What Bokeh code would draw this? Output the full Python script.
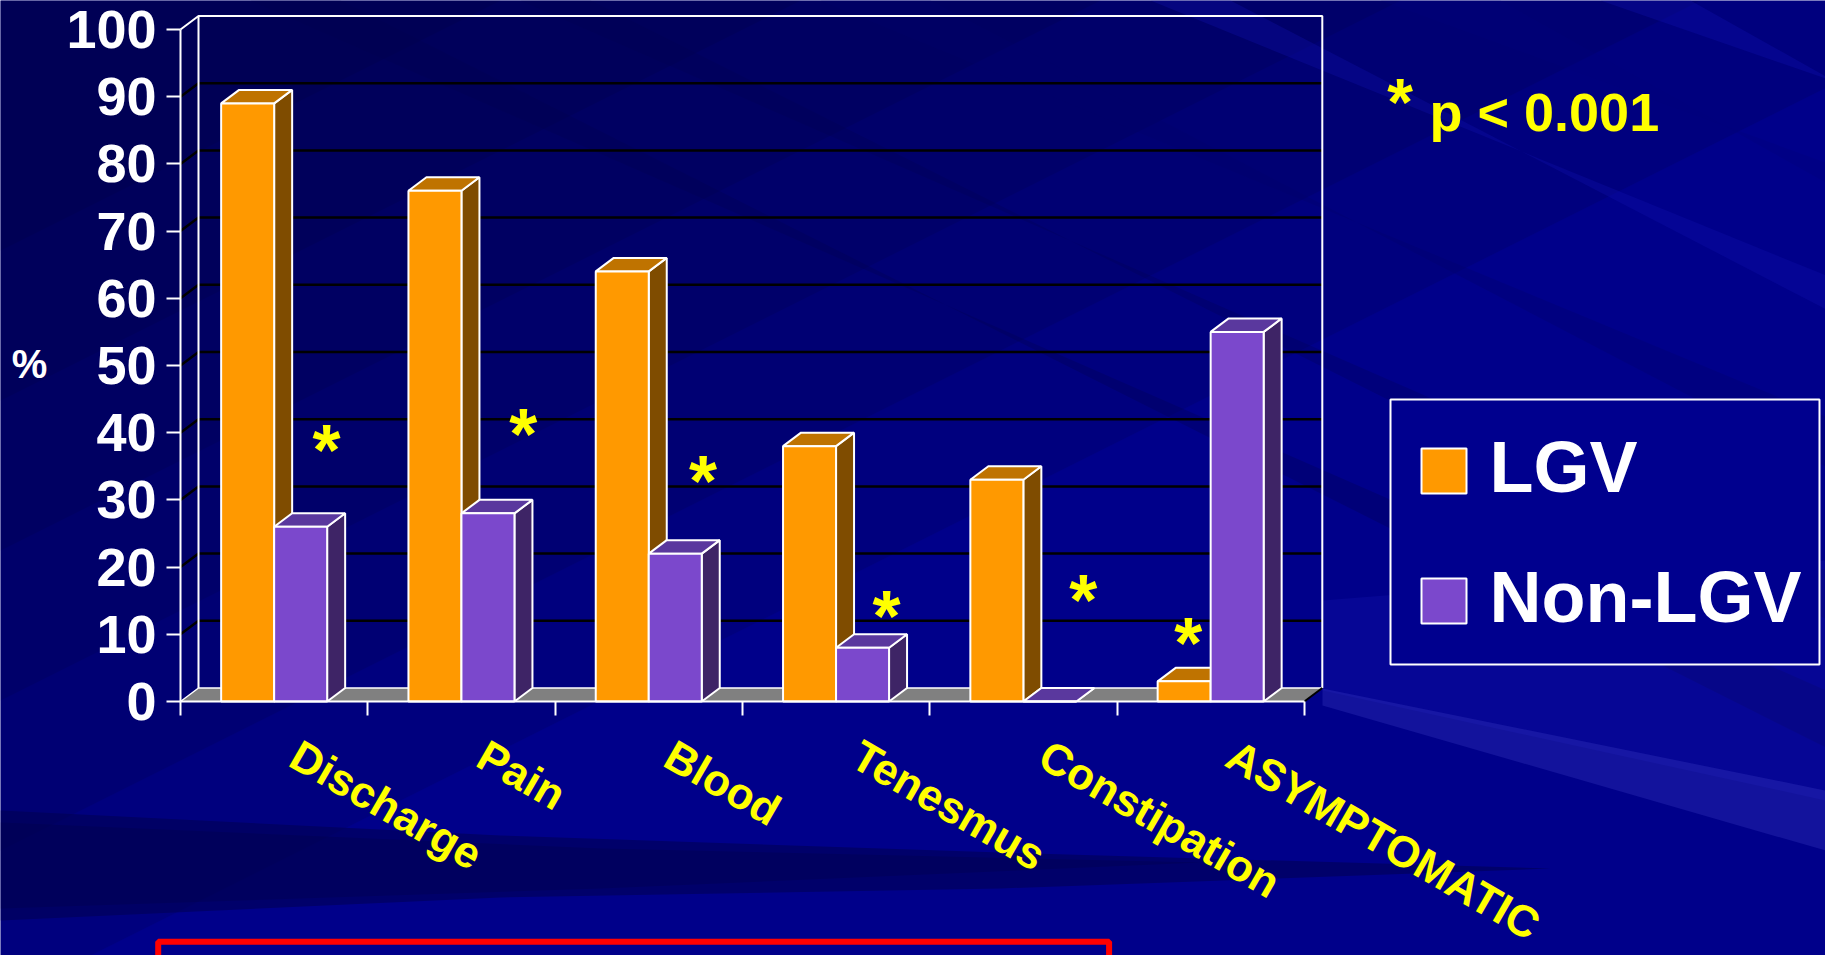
from bokeh.plotting import figure
from bokeh.models import Range1d, LinearAxis, FixedTicker, ColumnDataSource
from bokeh.core.properties import value
from bokeh.embed import file_html
from bokeh.resources import INLINE

# ---- data -------------------------------------------------------------
categories = ["Discharge", "Pain", "Blood", "Tenesmus", "Constipation", "ASYMPTOMATIC"]
lgv = [89, 76, 64, 38, 33, 3]
non_lgv = [26, 28, 22, 8, 0, 55]
series_names = ["LGV", "Non-LGV"]
y_ticks = [0, 10, 20, 30, 40, 50, 60, 70, 80, 90, 100]
y_label = "%"
p_star = "*"
p_note = "p < 0.001"
# significance markers (x in category units, y in %)
star_x = [0.78, 1.83, 2.79, 3.77, 4.82, 5.38]
star_y = [39.0, 41.4, 34.4, 14.3, 16.7, 10.4]

# ---- page geometry ----------------------------------------------------
W, H = 1825, 955
OX, OY = 180.0, 701.0        # pixel position of the (0, 0) corner
CAT_PX = 187.3               # pixels per category
VAL_PX = 6.72                # pixels per percentage point


def X(px):
    return (px - OX) / CAT_PX


def Y(py):
    return (OY - py) / VAL_PX


DEPTH_X = 18.0 / CAT_PX      # oblique depth of walls and columns
DEPTH_Y = 13.5 / VAL_PX
BAR_W = 53.0 / CAT_PX
N = len(categories)

FONT = "Liberation Sans"
BG = "#00008A"

p = figure(width=W, height=H,
           x_range=Range1d(X(0), X(W)), y_range=Range1d(Y(H), Y(0)),
           x_axis_type=None, y_axis_type=None, min_border=0,
           toolbar_location=None, output_backend="svg",
           background_fill_color=BG, border_fill_color=BG,
           outline_line_color=None)


def poly(pts, color, alpha):
    p.patch([X(a) for a, b in pts], [Y(b) for a, b in pts],
            fill_color=color, fill_alpha=alpha, line_color=None)


# ---- slide backdrop -----------------------------------------------------
for L in [500, 800, 1100, 1400, 1700, 2000]:
    poly([(0, 0), (L, 0), (0, L * 0.5)], "#000030", 0.13)
for x0, w, c, a in [(250, 90, "#000050", 0.30), (520, 70, "#000050", 0.25),
                    (820, 110, "#00006A", 0.30), (1150, 80, "#1010B0", 0.30),
                    (1380, 120, "#00007A", 0.30), (1600, 90, "#1212B4", 0.30)]:
    poly([(x0, 0), (x0 + w, 0), (W + 400, (W + 400 - x0) * 0.48),
          (W + 400, (W + 400 - x0 - w) * 0.48 - 40)], c, a)
poly([(1322, 600), (W, 560), (W, 800), (1322, 690)], "#1414B0", 0.30)
poly([(1322, 688), (W, 790), (W, 850), (1322, 705)], "#4040C8", 0.30)
poly([(0, 810), (500, 835), (1000, 852), (1550, 868),
      (1000, 888), (500, 897), (0, 920)], "#000050", 0.55)
poly([(0, 822), (600, 848), (1200, 862), (600, 888), (0, 908)], "#000040", 0.25)

# ---- walls and floor ----------------------------------------------------
grid_vals = y_ticks[1:-1]
p.multi_line(xs=[[0, DEPTH_X, N + DEPTH_X] for _ in grid_vals],
             ys=[[v, v + DEPTH_Y, v + DEPTH_Y] for v in grid_vals],
             line_color="black", line_width=2.5)
top = y_ticks[-1]
p.line([0, DEPTH_X, N + DEPTH_X, N + DEPTH_X], [top, top + DEPTH_Y, top + DEPTH_Y, DEPTH_Y],
       line_color="white", line_width=2)
p.line([DEPTH_X, DEPTH_X], [DEPTH_Y, top + DEPTH_Y], line_color="white", line_width=2)
p.patch([0, N, N + DEPTH_X, DEPTH_X], [0, 0, DEPTH_Y, DEPTH_Y],
        fill_color="#808080", line_color=None)
p.line([0, DEPTH_X, N + DEPTH_X], [0, DEPTH_Y, DEPTH_Y], line_color="white", line_width=1.5)
p.line([N, N + DEPTH_X], [0, DEPTH_Y], line_color="black", line_width=2)

# ---- 3-D columns --------------------------------------------------------
palettes = [("#FF9900", "#BF7300", "#7F4C00"), ("#7B48CC", "#5A389E", "#3E2466")]
faces = {"side": [], "top": [], "front": []}
for s, vals in enumerate([lgv, non_lgv]):
    fr, tp, sd = {"xs": [], "ys": []}, {"xs": [], "ys": []}, {"xs": [], "ys": []}
    for i, h in enumerate(vals):
        left = i + 0.5 - BAR_W + s * BAR_W
        right = left + BAR_W
        fr["xs"].append([left, right, right, left])
        fr["ys"].append([0, 0, h, h])
        tp["xs"].append([left, right, right + DEPTH_X, left + DEPTH_X])
        tp["ys"].append([h, h, h + DEPTH_Y, h + DEPTH_Y])
        sd["xs"].append([right, right + DEPTH_X, right + DEPTH_X, right])
        sd["ys"].append([0, DEPTH_Y, h + DEPTH_Y, h])
    faces["front"].append(fr)
    faces["top"].append(tp)
    faces["side"].append(sd)

for face, idx in [("side", 2), ("top", 1), ("front", 0)]:
    for s in range(2):
        p.patches("xs", "ys", source=ColumnDataSource(faces[face][s]),
                  fill_color=palettes[s][idx], line_color="white", line_width=2)

# ---- axes ----------------------------------------------------------------
yax = LinearAxis(fixed_location=0, bounds=(0, 100),
                 ticker=FixedTicker(ticks=y_ticks, minor_ticks=[]),
                 axis_line_color="white", axis_line_width=2,
                 major_tick_line_color="white", major_tick_line_width=2,
                 major_tick_out=14, major_tick_in=0, minor_tick_out=0, minor_tick_in=0,
                 major_label_standoff=10,
                 major_label_text_color="white", major_label_text_font=FONT,
                 major_label_text_font_style="bold", major_label_text_font_size="54px")
p.add_layout(yax, "left")

# category names hang from just right of each category centre
label_pos = [i + 0.5 + 20.0 / CAT_PX for i in range(N)]
xax = LinearAxis(fixed_location=0, bounds=(0, N),
                 ticker=FixedTicker(ticks=label_pos, minor_ticks=list(range(N + 1))),
                 major_label_overrides={c: name for c, name in zip(label_pos, categories)},
                 major_label_orientation=-0.5236,
                 axis_line_color="white", axis_line_width=2,
                 major_tick_out=0, major_tick_in=0,
                 minor_tick_line_color="white", minor_tick_line_width=2,
                 minor_tick_out=14, minor_tick_in=0,
                 major_label_standoff=36,
                 major_label_text_color="#FFFF00", major_label_text_font=FONT,
                 major_label_text_font_style="bold", major_label_text_font_size="44px")
p.add_layout(xax, "below")

# ---- texts ---------------------------------------------------------------
p.text(x=[X(29)], y=[Y(363)], text=[y_label], text_align="center", text_baseline="middle",
       text_color="white", text_font=value(FONT), text_font_style="bold",
       text_font_size="40px")
p.text(x=star_x, y=star_y, text=[p_star] * len(star_x), y_offset=11,
       text_align="center", text_baseline="alphabetic",
       text_color="#FFFF00", text_font=value(FONT), text_font_style="bold",
       text_font_size="72px")
p.text(x=[X(1399.6)], y=[Y(91)], text=[p_star], y_offset=10,
       text_align="center", text_baseline="alphabetic",
       text_color="#FFFF00", text_font=value(FONT), text_font_style="bold",
       text_font_size="66px")
p.text(x=[X(1429)], y=[Y(111.6)], text=[p_note], text_align="left", text_baseline="alphabetic",
       text_color="#FFFF00", text_font=value(FONT), text_font_style="bold",
       text_font_size="54px")

# ---- frame at the bottom of the slide ------------------------------------
p.quad(left=[X(157.7)], right=[X(1108.6)], top=[Y(941.3)], bottom=[Y(990)],
       fill_color=None, line_color="#FF0000", line_width=6)

# ---- legend box ----------------------------------------------------------
p.quad(left=[X(1390)], right=[X(1819)], top=[Y(399)], bottom=[Y(664)],
       fill_color="#00008E", line_color="white", line_width=2)
swatch_top = [448, 578]
p.quad(left=[X(1421)] * 2, right=[X(1466)] * 2,
       top=[Y(t) for t in swatch_top], bottom=[Y(t + 45) for t in swatch_top],
       fill_color=[palettes[0][0], palettes[1][0]], line_color="white", line_width=2)
p.text(x=[X(1489)] * 2, y=[Y(t + 46 - 28) for t in swatch_top], text=series_names,
       text_align="left", text_baseline="alphabetic",
       text_color="white", text_font=value(FONT), text_font_style="bold",
       text_font_size="72px")

open("out.html", "w").write(file_html(p, INLINE))
